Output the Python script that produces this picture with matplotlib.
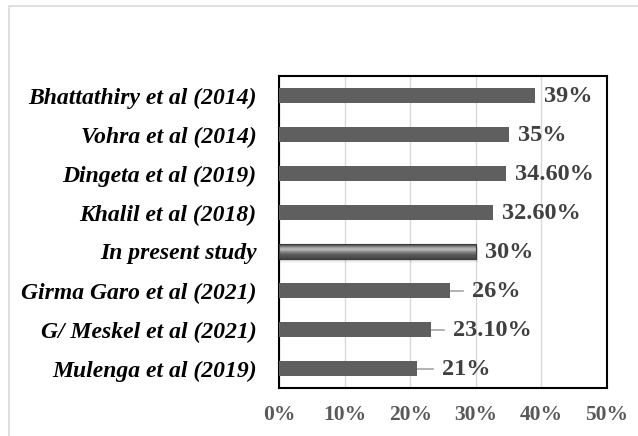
import matplotlib.pyplot as plt
import numpy as np
from matplotlib.patches import Rectangle
from matplotlib.transforms import offset_copy

studies = [
    "Bhattathiry et al (2014)",
    "Vohra et al (2014)",
    "Dingeta et al (2019)",
    "Khalil et al (2018)",
    "In present study",
    "Girma Garo et al (2021)",
    "G/ Meskel et al (2021)",
    "Mulenga et al (2019)",
]
values = [39, 35, 34.6, 32.6, 30, 26, 23.1, 21]
value_labels = ["39%", "35%", "34.60%", "32.60%", "30%", "26%", "23.10%", "21%"]
errors = [0, 0, 0, 0, 0, 2.1, 2.0, 2.4]
ticks = [0, 10, 20, 30, 40, 50]

highlight = "In present study"
bar_color = "#5f5f5f"

fig = plt.figure(figsize=(6.38, 4.36), dpi=100)
W, H = 638, 436
ax = fig.add_axes([279 / W, 1 - 388 / H, (607 - 279) / W, (388 - 76) / H])

# outer chart-area border
fig.patches.append(Rectangle((9 / W, -0.1), 1.2, 1 - 6 / H + 0.1,
                             transform=fig.transFigure, fill=False,
                             edgecolor="#d9d9d9", linewidth=1.2))

y = np.arange(len(studies))[::-1]
bh = 0.36
for yi, name, v, e in zip(y, studies, values, errors):
    if name == highlight:
        # soft drop shadow then a shaded "bevel" bar
        for k, a in enumerate([0.06, 0.05, 0.04, 0.03]):
            ax.add_patch(Rectangle((0, yi - bh / 2 - 0.03 - 0.025 * k), v + 0.2 + 0.1 * k,
                                   bh + 0.02, color="black", alpha=a, lw=0, zorder=2))
        grad = np.array([0.30, 0.45, 0.66, 0.74, 0.64, 0.50, 0.40, 0.34, 0.31, 0.28])[:, None]
        ax.imshow(grad, cmap="gray", vmin=0, vmax=1, aspect="auto",
                  extent=[0, v, yi - bh / 2, yi + bh / 2], origin="upper",
                  interpolation="bicubic", zorder=3)
        ax.add_patch(Rectangle((0, yi - bh / 2), v, bh, fill=False,
                               edgecolor="#3a3a3a", lw=0.8, zorder=4))
    else:
        ax.barh(yi, v, height=bh, color=bar_color, zorder=3)
        if e:
            ax.plot([v, v + e], [yi, yi], color="#a6a6a6", lw=1.2, zorder=2)

# value labels after bar (or error line) end
for yi, v, e, lab in zip(y, values, errors, value_labels):
    tr = offset_copy(ax.transData, fig=fig, x=9, y=-1, units="dots")
    ax.text(v + e, yi, lab, transform=tr, ha="left", va="center",
            family="Liberation Serif", fontweight="bold", fontsize=17.5,
            color="#404040", zorder=5)

ax.set_xlim(0, 50)
ax.set_ylim(-0.5, len(studies) - 0.5)
ax.set_xticks(ticks)
ax.set_xticklabels([f"{t}%" for t in ticks], family="Liberation Serif",
                   fontweight="bold", fontsize=15.5, color="#595959")
ax.set_yticks(y)
ax.set_yticklabels(studies, family="Liberation Serif", fontweight="bold",
                   style="italic", fontsize=17, color="black")
ax.tick_params(axis="both", length=0)
ax.tick_params(axis="y", pad=16)
ax.tick_params(axis="x", pad=12)
ax.grid(axis="x", color="#d9d9d9", lw=1, zorder=0)
ax.set_axisbelow(True)
for s in ax.spines.values():
    s.set_color("black")
    s.set_linewidth(1.5)

fig.savefig("out.png", dpi=100)
